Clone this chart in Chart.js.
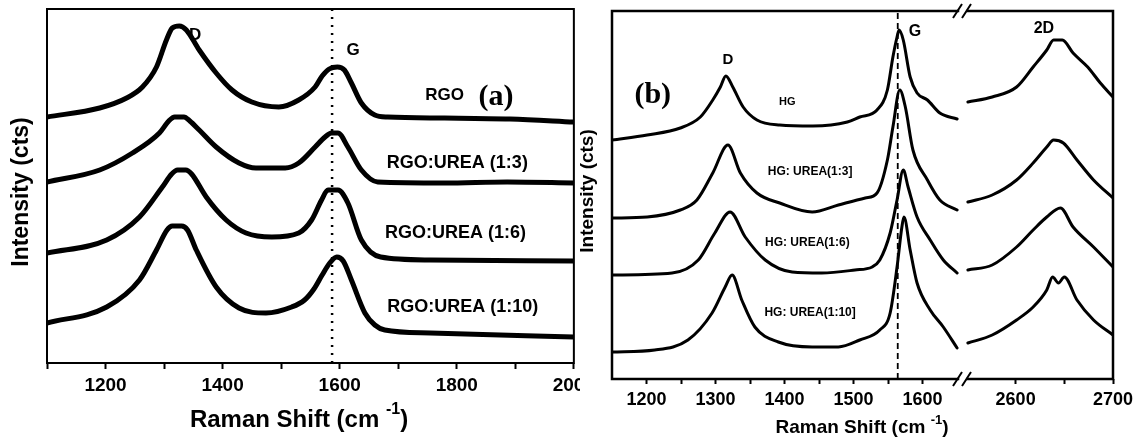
<!DOCTYPE html>
<html>
<head>
<meta charset="utf-8">
<title>Raman spectra</title>
<script src="https://cdn.jsdelivr.net/npm/chart.js"></script>
<style>
  body { margin: 0; background: #fff; }
  .panel { position: absolute; top: 0; height: 438px; overflow: hidden; }
</style>
</head>
<body>
<div class="panel" style="left:0;width:580px"><canvas id="chartA" width="600" height="438"></canvas></div>
<div class="panel" style="left:560px;width:416px"><canvas id="chartB1" width="416" height="438"></canvas></div>
<div class="panel" style="left:952px;width:190px"><canvas id="chartB2" width="190" height="438"></canvas></div>
<script>
// ---------- panel (a): RGO and RGO:urea, stacked intensity (a.u.) ----------
const rgoShift = [1100, 1190, 1236, 1263, 1287, 1304, 1314, 1326, 1338, 1360, 1389, 1416, 1450, 1496, 1530, 1558, 1570, 1582, 1596, 1608, 1620, 1637, 1660, 1682, 1779, 1891, 2000];
const rgoInt   = [246, 255, 265, 276, 296, 323, 335, 337, 333, 313, 290, 273, 261, 256, 263, 276, 287, 294, 296, 293, 280, 260, 248, 246, 245, 244, 241];
const rgo3Shift = [1100, 1190, 1246, 1292, 1308, 1318, 1334, 1344, 1360, 1389, 1428, 1457, 1507, 1530, 1558, 1575, 1586, 1597, 1614, 1637, 1665, 1779, 1886, 2000];
const rgo3Int   = [181, 193, 210, 230, 242, 246, 246, 242, 233, 216, 200, 195, 195, 200, 216, 226, 230, 230, 216, 193, 181, 180, 181, 180];
const rgo6Shift = [1100, 1202, 1258, 1297, 1313, 1323, 1337, 1347, 1372, 1406, 1440, 1484, 1530, 1552, 1569, 1580, 1597, 1614, 1637, 1670, 1755, 2000];
const rgo6Int   = [110, 123, 146, 176, 189, 193, 193, 189, 166, 143, 130, 126, 130, 143, 163, 173, 173, 160, 123, 106, 103, 102];
const rgo10Shift = [1100, 1202, 1258, 1287, 1305, 1314, 1330, 1340, 1355, 1389, 1428, 1474, 1518, 1540, 1556, 1570, 1583, 1595, 1606, 1620, 1643, 1660, 1677, 1755, 2000];
const rgo10Int   = [40, 56, 83, 113, 133, 137, 137, 133, 113, 76, 55, 50, 56, 63, 74, 88, 100, 106, 102, 83, 50, 38, 33, 30, 26];
const gBandA = 1587;
const ticksA = [1200, 1400, 1600, 1800, 2000];

// ---------- panel (b): HG and HG:urea, split axis ----------
const hgLowShift = [1150, 1201, 1249, 1278, 1296, 1307, 1315, 1325, 1340, 1360, 1393, 1441, 1491, 1509, 1534, 1549, 1557, 1563, 1566, 1572, 1582, 1592, 1607, 1625, 1650];
const hgLowInt   = [239, 244, 251, 262, 279, 292, 303, 292, 272, 259, 254, 253, 257, 262, 269, 289, 322, 342, 349, 339, 302, 286, 279, 266, 260];
const hgHighShift = [2551, 2576, 2601, 2618, 2632, 2639, 2648, 2659, 2674, 2687, 2700];
const hgHighInt   = [277, 282, 292, 312, 329, 339, 339, 326, 312, 296, 282];

const hg3LowShift = [1150, 1201, 1249, 1273, 1296, 1318, 1336, 1360, 1393, 1440, 1478, 1517, 1534, 1549, 1557, 1567, 1575, 1586, 1607, 1625, 1650];
const hg3LowInt   = [161, 162, 169, 179, 206, 234, 206, 186, 176, 167, 174, 181, 186, 219, 252, 289, 272, 229, 199, 179, 169];
const hg3HighShift = [2551, 2576, 2601, 2618, 2632, 2639, 2649, 2663, 2680, 2700];
const hg3HighInt   = [177, 184, 199, 216, 232, 239, 236, 219, 199, 181];

const hg6LowShift = [1150, 1237, 1275, 1299, 1321, 1343, 1372, 1411, 1454, 1502, 1527, 1538, 1553, 1563, 1572, 1579, 1592, 1611, 1630, 1650];
const hg6LowInt   = [104, 106, 119, 146, 167, 142, 119, 107, 106, 109, 112, 119, 146, 179, 209, 192, 162, 139, 119, 106];
const hg6HighShift = [2551, 2576, 2601, 2618, 2632, 2646, 2659, 2680, 2700];
const hg6HighInt   = [109, 114, 132, 149, 162, 171, 152, 132, 112];

const hg10LowShift = [1150, 1212, 1260, 1295, 1314, 1324, 1338, 1357, 1391, 1440, 1478, 1509, 1538, 1553, 1563, 1570, 1573, 1582, 1592, 1611, 1630, 1650];
const hg10LowInt   = [27, 29, 39, 66, 92, 104, 79, 52, 37, 32, 32, 39, 49, 66, 112, 152, 162, 129, 96, 69, 52, 31];
const hg10HighShift = [2551, 2576, 2601, 2618, 2632, 2638, 2644, 2650, 2663, 2680, 2700];
const hg10HighInt   = [36, 44, 59, 72, 89, 102, 96, 102, 79, 59, 44];

const gBandB = 1564;
const ticksBLow = [1200, 1300, 1400, 1500, 1600];
const ticksBHigh = [2600, 2700];

// text placed in data coordinates
const notesA = [
  { text: 'D', x: 1353, y: 328, size: 17 },
  { text: 'G', x: 1623, y: 313, size: 17 },
  { text: 'RGO', x: 1779, y: 268, size: 17 },
  { text: '(a)', x: 1867, y: 266, size: 30, serif: true },
  { text: 'RGO:UREA (1:3)', x: 1801, y: 200, size: 18 },
  { text: 'RGO:UREA (1:6)', x: 1798, y: 130, size: 18 },
  { text: 'RGO:UREA (1:10)', x: 1810, y: 56, size: 18 }
];
const notesBLow = [
  { text: '(b)', x: 1209, y: 284, size: 30, serif: true },
  { text: 'D', x: 1318, y: 319, size: 15 },
  { text: 'G', x: 1589, y: 347, size: 16 },
  { text: 'HG', x: 1404, y: 277, size: 11 },
  { text: 'HG: UREA(1:3]', x: 1437, y: 207, size: 12 },
  { text: 'HG: UREA(1:6)', x: 1433, y: 136, size: 12 },
  { text: 'HG: UREA(1:10]', x: 1437, y: 66, size: 12 }
];
const notesBHigh = [
  { text: '2D', x: 2629, y: 350, size: 16 }
];

const SANS = '"Liberation Sans", Arial, sans-serif';
const SERIF = '"Liberation Serif", "Times New Roman", serif';

function pts(xs, ys) {
  return xs.map((x, i) => ({ x: x, y: ys[i] }));
}
function spectrum(xs, ys, width) {
  return {
    data: pts(xs, ys), borderColor: '#000', borderWidth: width, pointRadius: 0,
    cubicInterpolationMode: 'monotone', borderJoinStyle: 'round', borderCapStyle: 'round', fill: false
  };
}
function bandLine(x, ymax, dash, width) {
  return {
    data: [{ x: x, y: 0 }, { x: x, y: ymax }], borderColor: '#000', borderWidth: width,
    borderDash: dash, pointRadius: 0, tension: 0, fill: false
  };
}

// frame, break marks, axis titles and notes
const decor = {
  id: 'decor',
  afterDatasetsDraw(chart, args, o) {
    const { ctx, chartArea: a, scales: { x, y } } = chart;
    ctx.save();
    ctx.strokeStyle = '#000';
    ctx.fillStyle = '#000';
    ctx.lineWidth = o.frameWidth;
    ctx.lineCap = 'square';
    const h0 = a.left + (o.cutLeft || 0), h1 = a.right - (o.cutRight || 0);
    ctx.beginPath();
    ctx.moveTo(h0, a.top); ctx.lineTo(h1, a.top);
    ctx.moveTo(h0, a.bottom); ctx.lineTo(h1, a.bottom);
    if (o.sides.includes('l')) { ctx.moveTo(a.left, a.top); ctx.lineTo(a.left, a.bottom); }
    if (o.sides.includes('r')) { ctx.moveTo(a.right, a.top); ctx.lineTo(a.right, a.bottom); }
    ctx.stroke();

    if (o.breakMarks) {
      ctx.lineWidth = 2;
      ctx.lineCap = 'butt';
      ctx.beginPath();
      for (const yy of [a.top, a.bottom]) {
        for (const d of [-7, 2]) {
          ctx.moveTo(a.right + d - 4, yy + 7);
          ctx.lineTo(a.right + d + 5, yy - 7);
        }
      }
      ctx.stroke();
    }

    ctx.textAlign = 'center';
    ctx.textBaseline = 'middle';
    for (const n of o.notes) {
      ctx.font = 'bold ' + n.size + 'px ' + (n.serif ? SERIF : SANS);
      ctx.fillText(n.text, x.getPixelForValue(n.x), y.getPixelForValue(n.y));
    }

    if (o.yTitle) {
      const t = o.yTitle;
      ctx.save();
      ctx.translate(a.left - t.dx, a.top + t.dy);
      ctx.rotate(-Math.PI / 2);
      ctx.font = 'bold ' + t.size + 'px ' + SANS;
      ctx.fillText(t.text, 0, 0);
      ctx.restore();
    }
    if (o.xTitle) {
      const t = o.xTitle;
      const main = 'Raman Shift (cm', sup = '-1', close = ')';
      ctx.font = 'bold ' + t.size + 'px ' + SANS;
      const w1 = ctx.measureText(main + ' ').width, w3 = ctx.measureText(close).width;
      ctx.font = 'bold ' + t.supSize + 'px ' + SANS;
      const w2 = ctx.measureText(sup).width;
      let cx = a.left + t.cx - (w1 + w2 + w3) / 2;
      const cy = a.bottom + t.dy;
      ctx.textAlign = 'left';
      ctx.font = 'bold ' + t.size + 'px ' + SANS;
      ctx.fillText(main, cx, cy);
      ctx.font = 'bold ' + t.supSize + 'px ' + SANS;
      ctx.fillText(sup, cx + w1, cy - t.size * 0.42);
      ctx.font = 'bold ' + t.size + 'px ' + SANS;
      ctx.fillText(close, cx + w1 + w2, cy);
    }
    ctx.restore();
  }
};

function xAxis(min, max, step, labels, hidden, height, size, tickLen, pad) {
  return {
    type: 'linear', min: min, max: max,
    afterFit: s => { s.height = height; },
    border: { display: false },
    grid: {
      drawOnChartArea: false, drawTicks: true, tickLength: tickLen, tickWidth: 2,
      tickColor: c => (c.tick && hidden(c.tick.value)) ? 'rgba(0,0,0,0)' : '#000'
    },
    ticks: {
      stepSize: step, autoSkip: false, maxRotation: 0, minRotation: 0, padding: pad, color: '#000',
      font: { family: SANS, weight: 'bold', size: size },
      callback: v => labels.includes(v) ? String(v) : ''
    }
  };
}

function baseOptions(padding, xScale, ymax, decorOpts) {
  return {
    responsive: false, animation: false,
    layout: { padding: padding },
    scales: { x: xScale, y: { display: false, min: 0, max: ymax } },
    plugins: { legend: { display: false }, tooltip: { enabled: false }, decor: decorOpts }
  };
}

new Chart(document.getElementById('chartA'), {
  type: 'line',
  data: {
    datasets: [
      spectrum(rgoShift, rgoInt, 5),
      spectrum(rgo3Shift, rgo3Int, 5),
      spectrum(rgo6Shift, rgo6Int, 5),
      spectrum(rgo10Shift, rgo10Int, 5),
      bandLine(gBandA, 354, [2, 6], 2.5)
    ]
  },
  options: baseOptions(
    { left: 47, top: 9, right: 23, bottom: 0 },
    xAxis(1100, 2000, 100, ticksA, v => false, 75, 19, 6, 5),
    354,
    { frameWidth: 2, sides: 'lr', notes: notesA,
      yTitle: { text: 'Intensity (cts)', size: 23, dx: 25, dy: 183 },
      xTitle: { size: 24, supSize: 16, cx: 252, dy: 57 } }
  ),
  plugins: [decor]
});

new Chart(document.getElementById('chartB1'), {
  type: 'line',
  data: {
    datasets: [
      spectrum(hgLowShift, hgLowInt, 3),
      spectrum(hg3LowShift, hg3LowInt, 3),
      spectrum(hg6LowShift, hg6LowInt, 3),
      spectrum(hg10LowShift, hg10LowInt, 3),
      bandLine(gBandB, 368, [6, 4], 1.8)
    ]
  },
  options: baseOptions(
    { left: 52, top: 11, right: 12, bottom: 0 },
    xAxis(1150, 1660, 50, ticksBLow, v => v <= 1150 || v >= 1650, 59, 18, 5, 5),
    368,
    { frameWidth: 2.5, sides: 'l', cutRight: 6, breakMarks: true, notes: notesBLow,
      yTitle: { text: 'Intensity (cts)', size: 19, dx: 24, dy: 180 },
      xTitle: { size: 19, supSize: 13, cx: 250, dy: 49 } }
  ),
  plugins: [decor]
});

new Chart(document.getElementById('chartB2'), {
  type: 'line',
  data: {
    datasets: [
      spectrum(hgHighShift, hgHighInt, 3),
      spectrum(hg3HighShift, hg3HighInt, 3),
      spectrum(hg6HighShift, hg6HighInt, 3),
      spectrum(hg10HighShift, hg10HighInt, 3)
    ]
  },
  options: baseOptions(
    { left: 12, top: 11, right: 29, bottom: 0 },
    xAxis(2547, 2700, 50, ticksBHigh, v => v < 2600, 59, 18, 5, 5),
    368,
    { frameWidth: 2.5, sides: 'r', cutLeft: 4, notes: notesBHigh }
  ),
  plugins: [decor]
});
</script>
</body>
</html>
